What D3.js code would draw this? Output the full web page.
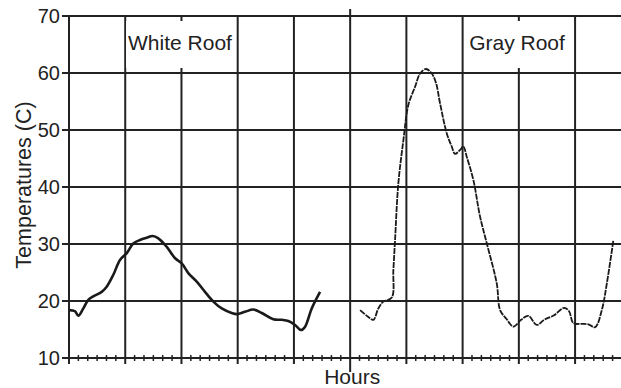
<!DOCTYPE html>
<html>
<head>
<meta charset="utf-8">
<script src="https://cdn.jsdelivr.net/npm/d3@7"></script>
<style>
  html, body { margin: 0; padding: 0; background: #fff; }
  svg { display: block; }
</style>
</head>
<body>
<svg id="chart"></svg>
<script>
const whiteHours = [0, 0.64, 0.99, 1.53, 2.06, 2.59, 3.49, 4.02, 4.73, 5.44, 6.16, 6.86, 7.58, 8.29, 8.93, 9.53,
  10.43, 11.32, 12.03, 12.73, 13.63, 14.51, 15.4, 16.3, 17.36, 17.9, 18.78, 19.67, 20.57, 21.8, 22.7, 23.4,
  24.12, 24.76, 25.19, 25.9, 26.79];
const whiteTemps = [18.4, 18.2, 17.4, 18.7, 20.2, 20.8, 21.6, 22.5, 24.6, 27.2, 28.4, 30.1, 30.7, 31.1, 31.4, 31.0,
  29.5, 27.5, 26.6, 24.9, 23.4, 21.6, 19.9, 18.7, 17.9, 17.7, 18.1, 18.5, 17.9, 16.8, 16.7, 16.5,
  15.8, 14.9, 15.5, 18.7, 21.6];

const grayHours = [31.06, 31.94, 32.48, 33.01, 33.54, 34.44, 34.61, 34.79, 35.14, 35.68, 36.21, 36.93, 37.46, 38.1,
  38.71, 39.17, 39.59, 40.31, 40.84, 41.19, 41.73, 42.08, 42.44, 43.15, 43.86, 44.58, 45.64, 46.0, 46.71,
  47.42, 48.24, 49.02, 49.91, 50.69, 51.76, 52.83, 53.36, 53.82, 54.72, 55.42, 56.14, 56.85, 57.39, 58.09];
const grayTemps = [18.4, 17.2, 16.7, 18.7, 19.9, 20.6, 25.4, 30.7, 40.6, 48.2, 54.4, 57.6, 59.9, 60.7,
  59.9, 58.2, 54.7, 49.4, 47.1, 45.8, 46.5, 47.1, 45.3, 41.2, 34.8, 30.1, 23.1, 18.4, 16.8,
  15.5, 16.7, 17.4, 15.8, 16.7, 17.5, 18.8, 18.2, 16.1, 16.0, 15.9, 15.4, 18.4, 23.1, 30.7];

const yTicks = [10, 20, 30, 40, 50, 60, 70];
const majorHours = [0, 6, 12, 18, 24, 30, 36, 42, 48, 54];
const minorHours = d3.range(0, 59, 1);
const seriesLabels = [
  { name: 'White Roof', hour: 6.3, temp: 64, boxEnd: 17.6 },
  { name: 'Gray Roof', hour: 42.7, temp: 64, boxEnd: 53.7 },
];

const width = 621;
const height = 388;
const ink = '#222';
const fontFamily = '"Liberation Sans", Arial, sans-serif';

const svg = d3.select('#chart')
  .attr('width', width)
  .attr('height', height);

const x = d3.scaleLinear().domain([0, 58.9]).range([69, 621]);
const y = d3.scaleLinear().domain([10, 70]).range([358, 16]);

// horizontal grid
svg.selectAll('.hgrid')
  .data(yTicks.filter(d => d > 10))
  .enter()
  .append('line')
  .attr('x1', x(0))
  .attr('x2', width)
  .attr('y1', d => y(d))
  .attr('y2', d => y(d))
  .attr('stroke', ink)
  .attr('stroke-width', 2);

// vertical grid, the middle one runs past the frame
svg.selectAll('.vgrid')
  .data(majorHours)
  .enter()
  .append('line')
  .attr('x1', d => x(d))
  .attr('x2', d => x(d))
  .attr('y1', d => d === 30 ? y(70) - 7 : y(70))
  .attr('y2', d => d === 30 ? y(10) + 14 : y(10) + 6)
  .attr('stroke', ink)
  .attr('stroke-width', 2);

// x axis with hourly minor ticks
svg.append('line')
  .attr('x1', x(0))
  .attr('x2', width)
  .attr('y1', y(10))
  .attr('y2', y(10))
  .attr('stroke', ink)
  .attr('stroke-width', 2);

svg.selectAll('.minor')
  .data(minorHours.filter(d => d % 6 !== 0))
  .enter()
  .append('line')
  .attr('x1', d => x(d))
  .attr('x2', d => x(d))
  .attr('y1', y(10) - 3)
  .attr('y2', y(10) + 3)
  .attr('stroke', ink)
  .attr('stroke-width', 1.5);

// y ticks + labels
svg.selectAll('.ytick')
  .data(yTicks)
  .enter()
  .append('line')
  .attr('x1', x(0) - 7)
  .attr('x2', x(0))
  .attr('y1', d => y(d))
  .attr('y2', d => y(d))
  .attr('stroke', ink)
  .attr('stroke-width', 2);

svg.selectAll('.ylabel')
  .data(yTicks)
  .enter()
  .append('text')
  .attr('x', x(0) - 9)
  .attr('y', d => y(d))
  .attr('dy', '0.36em')
  .attr('text-anchor', 'end')
  .attr('fill', ink)
  .attr('font-family', fontFamily)
  .attr('font-size', '20px')
  .text(d => d);

// label boxes hide the grid behind the series names
svg.selectAll('.label-box')
  .data(seriesLabels)
  .enter()
  .append('rect')
  .attr('x', d => x(d.hour) - 2)
  .attr('y', 21)
  .attr('width', d => x(d.boxEnd) - x(d.hour) + 2)
  .attr('height', 47)
  .attr('fill', '#fff');

svg.selectAll('.series-label')
  .data(seriesLabels)
  .enter()
  .append('text')
  .attr('x', d => x(d.hour))
  .attr('y', d => y(d.temp))
  .attr('fill', ink)
  .attr('font-family', fontFamily)
  .attr('font-size', '21px')
  .text(d => d.name);

const line = d3.line()
  .x(d => x(d[0]))
  .y(d => y(d[1]))
  .curve(d3.curveCatmullRom.alpha(0.5));

svg.append('path')
  .attr('d', line(d3.zip(whiteHours, whiteTemps)))
  .attr('fill', 'none')
  .attr('stroke', '#1a1a1a')
  .attr('stroke-width', 2.6)
  .attr('stroke-linejoin', 'round');

svg.append('path')
  .attr('d', line(d3.zip(grayHours, grayTemps)))
  .attr('fill', 'none')
  .attr('stroke', '#1a1a1a')
  .attr('stroke-width', 1.8)
  .attr('stroke-dasharray', '6,1');

// axis titles
svg.append('text')
  .attr('x', x(30) + 2)
  .attr('y', 384)
  .attr('text-anchor', 'middle')
  .attr('fill', ink)
  .attr('font-family', fontFamily)
  .attr('font-size', '21px')
  .text('Hours');

svg.append('text')
  .attr('transform', `translate(31,${(y(70) + y(10)) / 2 - 2}) rotate(-90)`)
  .attr('text-anchor', 'middle')
  .attr('fill', ink)
  .attr('font-family', fontFamily)
  .attr('font-size', '21.5px')
  .text('Temperatures (C)');
</script>
</body>
</html>
